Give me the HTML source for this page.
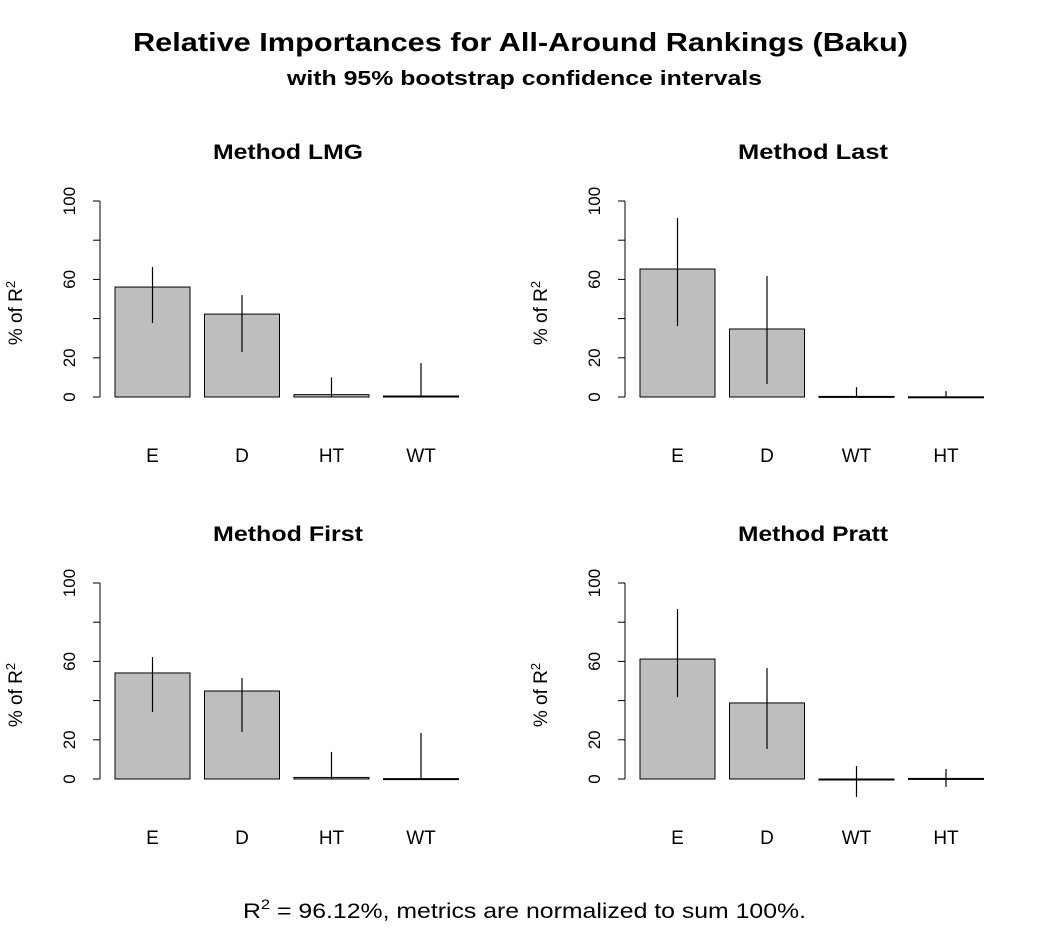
<!DOCTYPE html>
<html><head><meta charset="utf-8"><style>
body{margin:0;background:#fff;}
svg{display:block;font-family:"Liberation Sans",Arial,sans-serif;}
</style></head><body>
<svg id="chart" width="1050" height="939" viewBox="0 0 1050 939">
<rect width="1050" height="939" fill="#fff"/>
<text x="133" y="51" font-size="26" font-weight="bold" textLength="775" lengthAdjust="spacingAndGlyphs">Relative Importances for All-Around Rankings (Baku)</text>
<text x="287" y="85" font-size="20" font-weight="bold" textLength="475" lengthAdjust="spacingAndGlyphs">with 95% bootstrap confidence intervals</text>
<text x="243" y="918" font-size="21" textLength="563" lengthAdjust="spacingAndGlyphs">R<tspan dy="-9" font-size="14">2</tspan><tspan dy="9"> = 96.12%, metrics are normalized to sum 100%.</tspan></text>
</svg>
<script>
const titles = ["Method LMG","Method Last","Method First","Method Pratt"];
const cats = [["E","D","HT","WT"],["E","D","WT","HT"],["E","D","HT","WT"],["E","D","WT","HT"]];
const vals = [[56.1,42.3,1.2,0.5],[65.3,34.7,0.3,0.1],[54.1,44.9,0.8,0.2],[61.2,38.8,-0.4,0.3]];
const lows = [[37.8,23,0,0],[36.2,6.6,0,0],[34.2,24,0,0],[41.8,15.3,-9.2,-4.1]];
const highs = [[66.3,52,10,17.3],[91.3,61.7,5,3],[62.2,51.5,13.8,23.5],[86.7,56.6,6.6,5.1]];
const yTicks = [0,20,40,60,80,100];
const yLabels = [0,20,60,100];

const svg = document.getElementById('chart');
const NS = 'http://www.w3.org/2000/svg';
function mk(tag, attrs, parent){const e=document.createElementNS(NS,tag);for(const k in attrs)e.setAttribute(k,attrs[k]);(parent||svg).appendChild(e);return e;}
const panels = [{ax:100,y0:397},{ax:625,y0:397},{ax:100,y0:779},{ax:625,y0:779}];
titles.forEach((t,p)=>{
  const P = panels[p];
  const g = mk('g',{});
  
  
  const yS = v => P.y0 - v*1.96;
  const xS = i => P.ax + 15 + i*89.5;
  const tt = mk('text',{x:P.ax+188,y:P.y0-238,'text-anchor':'middle','font-size':21,'font-weight':'bold',textLength:150,lengthAdjust:'spacingAndGlyphs'},g);
  tt.textContent = t;
  
  
  const axis = mk('line',{x1:P.ax,x2:P.ax,y1:yS(100),y2:yS(0),stroke:'#000','stroke-width':1},g);
  
  
  yTicks.forEach(v=>{
    const tk = mk('line',{x1:P.ax-7,x2:P.ax,y1:yS(v),y2:yS(v),stroke:'#000'},g);
    
    
  });
  yLabels.forEach(v=>{
    const lx = P.ax-25, ly = yS(v);
    const tl = mk('text',{x:lx,y:ly,'text-anchor':'middle','font-size':17,transform:`rotate(-90 ${lx} ${ly})`},g);
    tl.textContent = v;
    
    
  });
  const lx = P.ax-78, ly = P.y0-84;
  const yl = mk('text',{x:lx,y:ly,'text-anchor':'middle','font-size':19,transform:`rotate(-90 ${lx} ${ly})`},g);
  yl.innerHTML = '% of R<tspan dy="-7" font-size="13">2</tspan>';
  
  
  vals[p].forEach((v,i)=>{
    const x = xS(i);
    const top = Math.min(yS(v),yS(0)), h = Math.max(Math.abs(yS(v)-yS(0)),1);
    const b = mk('rect',{x:x,y:top,width:75,height:h,fill:'#bebebe',stroke:'#000','stroke-width':1},g);
    
    
    const e = mk('line',{x1:x+37.5,x2:x+37.5,y1:yS(highs[p][i]),y2:yS(lows[p][i]),stroke:'#000','stroke-width':1.2},g);
    
    
    const c = mk('text',{x:x+37.5,y:P.y0+65,'text-anchor':'middle','font-size':19},g);
    c.textContent = cats[p][i];
    
    
  });
});
</script>
</body></html>
